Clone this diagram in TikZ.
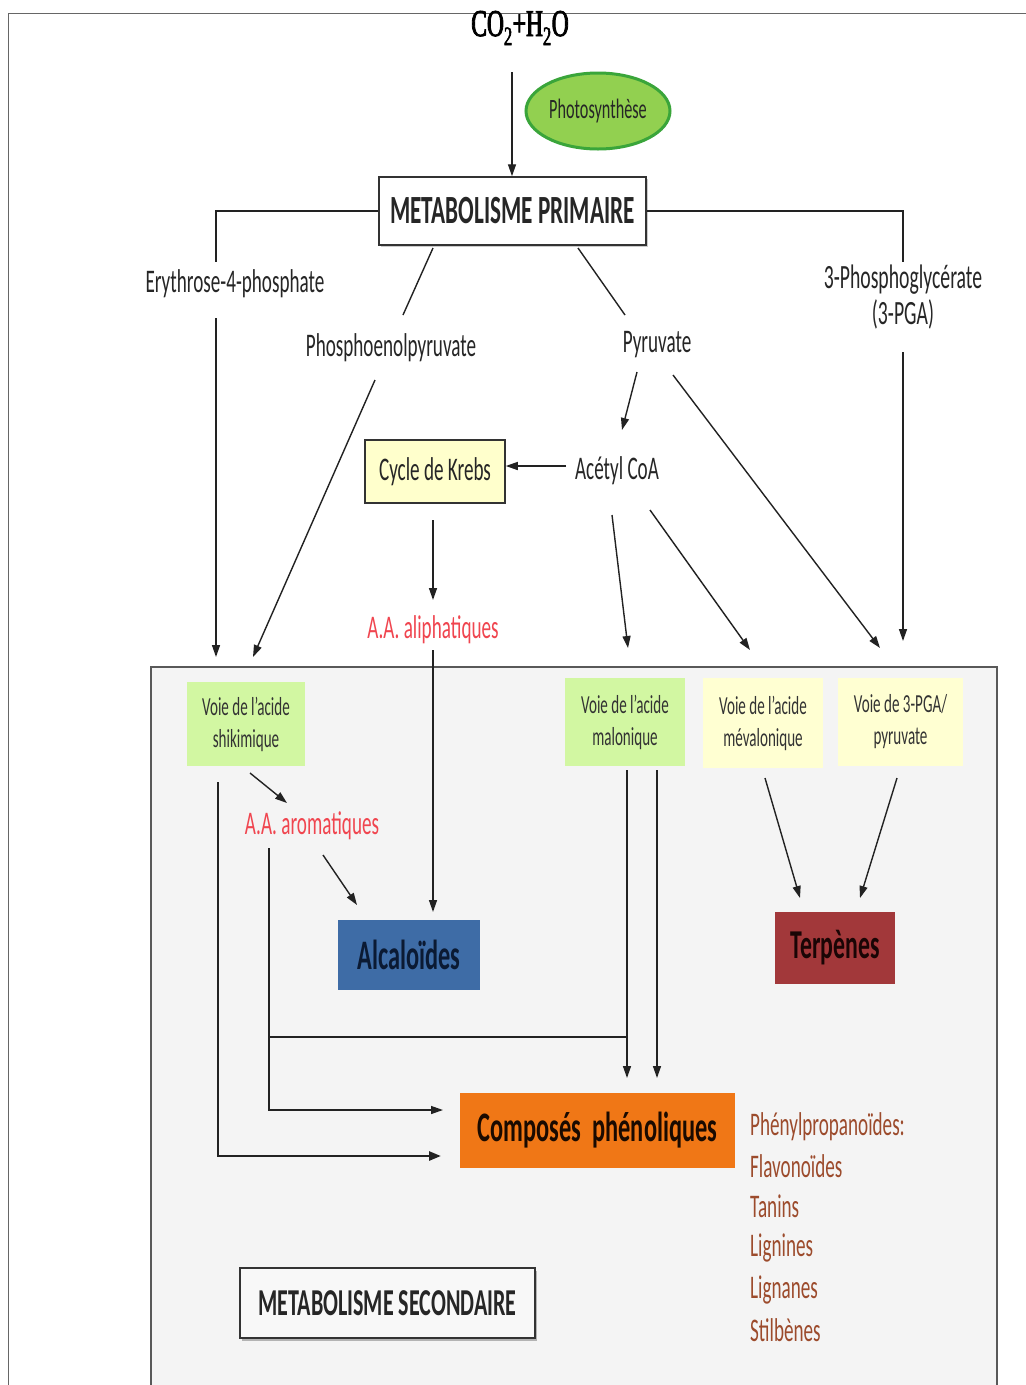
\documentclass[tikz,border=0pt]{standalone}
\usepackage{fontspec}
\setmainfont{Carlito}[FakeStretch=0.58]
\newfontfamily\serifb{Liberation Serif}[FakeStretch=0.62, FakeBold=2.2]
\usetikzlibrary{arrows.meta,shapes.geometric,shadows}
\newcommand\myfs[1]{\fontsize{#1}{#1}\selectfont}
\definecolor{photoF}{HTML}{92D050}
\definecolor{photoB}{HTML}{3AA53A}
\definecolor{krebsF}{HTML}{FFFFCC}
\definecolor{voieG}{HTML}{D2F7A2}
\definecolor{voieY}{HTML}{FFFFD2}
\definecolor{secF}{HTML}{F4F4F4}
\definecolor{alcaF}{HTML}{3E6CA6}
\definecolor{alcaT}{HTML}{0B1A33}
\definecolor{terpF}{HTML}{A2383A}
\definecolor{terpT}{HTML}{1A0505}
\definecolor{compF}{HTML}{F07716}
\definecolor{compT}{HTML}{1A0A00}
\definecolor{redT}{HTML}{F0454F}
\definecolor{brownT}{HTML}{9C4B2C}
\definecolor{lineC}{HTML}{222222}
\tikzset{
  lbl/.style={inner sep=0pt, text=black!85},
  arr/.style={draw=lineC, line width=1.4pt, -{Triangle[length=12pt,width=8pt]}},
  ln/.style={draw=lineC, line width=1.4pt},
  thickarr/.style={draw=lineC, line width=2.6pt, -{Triangle[length=12pt,width=9pt]}},
  box/.style={draw=black!80, line width=1.5pt, inner sep=0pt},
  voie/.style={inner sep=0pt, align=center, font=\myfs{26}, text=black!80},
}
\begin{document}
\begin{tikzpicture}[x=1pt,y=-1pt]
\useasboundingbox (0,0) rectangle (1026,1385);
\fill[white] (0,0) rectangle (1026,1385);
% outer frame
\draw[line width=1pt, black!60] (8,1390) -- (8,13) -- (1030,13);
% secondary region
\fill[secF] (151,667) rectangle (997,1390);
\draw[line width=1.3pt, black!65] (151,1390) -- (151,667) -- (997,667) -- (997,1390);

% top
\node[lbl, font=\serifb\myfs{38}, text=black] (co2) at (520,28) {CO\textsubscript{2}+H\textsubscript{2}O};
\node[ellipse, draw=photoB, line width=3pt, fill=photoF, minimum width=144pt, minimum height=76pt, inner sep=0pt, font=\myfs{28}, text=black!85] (photo) at (598,111) {Photosynthèse};
\node[box, fill=white, minimum width=267pt, minimum height=68pt, font=\bfseries\myfs{40}, text=black!85, drop shadow={shadow xshift=1.5pt, shadow yshift=-2pt, fill=black!40}] (prim) at (512.5,211) {METABOLISME PRIMAIRE};

% intermediates
\node[lbl, font=\myfs{33}] (e4p) at (235,284) {Erythrose-4-phosphate};
\node[lbl, font=\myfs{33}] (pep) at (391,348) {Phosphoenolpyruvate};
\node[lbl, font=\myfs{33}] (pyr) at (657,345) {Pyruvate};
\node[lbl, font=\myfs{34}, align=center] (pga) at (903,297) {3-Phosphoglycérate\\[2pt](3-PGA)};
\node[box, fill=krebsF, minimum width=140pt, minimum height=63pt, font=\myfs{33}, text=black!85] (krebs) at (435,471.5) {Cycle de Krebs};
\node[lbl, font=\myfs{33}] (acoa) at (617,471) {Acétyl CoA};
\node[lbl, font=\myfs{33}, text=redT] (aliph) at (433,630) {A.A. aliphatiques};

% pathways
\node[voie, fill=voieG, minimum width=118pt, minimum height=84pt] (shik) at (246,724) {Voie de l'acide\\[6pt]shikimique};
\node[voie, fill=voieG, minimum width=120pt, minimum height=88pt] (malo) at (625,722) {Voie de l'acide\\[6pt]malonique};
\node[voie, fill=voieY, minimum width=120pt, minimum height=90pt] (meva) at (763,723) {Voie de l'acide\\[6pt]mévalonique};
\node[voie, fill=voieY, minimum width=125pt, minimum height=88pt] (vpga) at (900.5,722) {Voie de 3-PGA/\\[6pt]pyruvate};

\node[lbl, font=\myfs{33}, text=redT] (arom) at (312,826) {A.A. aromatiques};

% products
\node[inner sep=0pt, fill=alcaF, minimum width=142pt, minimum height=70pt, font=\bfseries\myfs{42}, text=alcaT] (alca) at (409,955) {Alcaloïdes};
\node[inner sep=0pt, fill=terpF, minimum width=120pt, minimum height=72pt, font=\bfseries\myfs{41}, text=terpT] (terp) at (835,948) {Terpènes};
\node[inner sep=0pt, fill=compF, minimum width=275pt, minimum height=75pt, font=\bfseries\myfs{42}, text=compT] (comp) at (597.5,1130.5) {Composés\ \ phénoliques};

% list
\begin{scope}[every node/.style={inner sep=0pt, anchor=west, font=\myfs{33}, text=brownT}]
\node (l1) at (750,1127) {Phénylpropanoïdes:};
\node (l2) at (750,1166) {Flavonoïdes};
\node (l3) at (750,1206) {Tanins};
\node (l4) at (750,1248) {Lignines};
\node (l5) at (750,1290) {Lignanes};
\node (l6) at (750,1330) {Stilbènes};
\end{scope}

\node[box, fill=secF!60!white, minimum width=295pt, minimum height=70pt, font=\bfseries\myfs{38}, text=black!85, drop shadow={shadow xshift=1.5pt, shadow yshift=-2.5pt, fill=black!55}] (sec) at (387.5,1303) {METABOLISME SECONDAIRE};

% coordinates for connector ends
\coordinate (co2s) at (512,72);
\coordinate (e4a) at (216,262);
\coordinate (e4b) at (216,318);
\coordinate (e4c) at (216,657);
\coordinate (pgaa) at (903,262);
\coordinate (pgab) at (903,352);
\coordinate (pgac) at (903,641);
\coordinate (pepa) at (433,248);
\coordinate (pepb) at (403,315);
\coordinate (pepc) at (375,380);
\coordinate (pepd) at (253,657);
\coordinate (pyra) at (578,248);
\coordinate (pyrb) at (625,315);
\coordinate (pyrc) at (637,372);
\coordinate (pyrd) at (622,430);
\coordinate (pyre) at (673,375);
\coordinate (pyrf) at (880,648);
\coordinate (acoaw) at (566,466);
\coordinate (krebsS) at (433,520);
\coordinate (aliphN) at (433,600);
\coordinate (aliphS) at (433,650);
\coordinate (alcaN) at (433,912);
\coordinate (acoa1) at (612,515);
\coordinate (malN) at (628,648);
\coordinate (acoa2) at (650,510);
\coordinate (mevN) at (750,650);
\coordinate (shik1) at (250,773);
\coordinate (aromN) at (287,803);
\coordinate (arom1) at (323,855);
\coordinate (alcaNW) at (357,905);
\coordinate (shik2) at (218,782);
\coordinate (compW1) at (441,1156);
\coordinate (arom2) at (269,848);
\coordinate (compW2) at (443,1110);
\coordinate (join) at (269,1037);
\coordinate (malo1) at (627,770);
\coordinate (malo2) at (657,770);
\coordinate (compN1) at (627,1078);
\coordinate (compN2) at (657,1078);
\coordinate (meva1) at (765,778);
\coordinate (terpN1) at (800,898);
\coordinate (vpga1) at (897,778);
\coordinate (terpN2) at (860,898);

% connectors
\draw[arr] (co2s) -- (prim.north -| co2s);
\draw[ln] (prim.west) -| (e4a);
\draw[arr] (e4b) -- (e4c);
\draw[ln] (prim.east) -| (pgaa);
\draw[arr] (pgab) -- (pgac);
\draw[ln] (pepa) -- (pepb);
\draw[arr] (pepc) -- (pepd);
\draw[ln] (pyra) -- (pyrb);
\draw[arr] (pyrc) -- (pyrd);
\draw[arr] (pyre) -- (pyrf);
\draw[arr] (acoaw) -- (krebs.east |- acoaw);
\draw[arr] (krebsS) -- (aliphN);
\draw[arr] (aliphS) -- (alcaN);
\draw[arr] (acoa1) -- (malN);
\draw[arr] (acoa2) -- (mevN);
\draw[arr] (shik1) -- (aromN);
\draw[arr] (arom1) -- (alcaNW);
\draw[thickarr] (shik2) |- (compW1);
\draw[arr] (arom2) |- (compW2);
\draw[ln] (join) -- (join -| malo1);
\draw[arr] (malo1) -- (compN1);
\draw[arr] (malo2) -- (compN2);
\draw[arr] (meva1) -- (terpN1);
\draw[arr] (vpga1) -- (terpN2);
\end{tikzpicture}
\end{document}
